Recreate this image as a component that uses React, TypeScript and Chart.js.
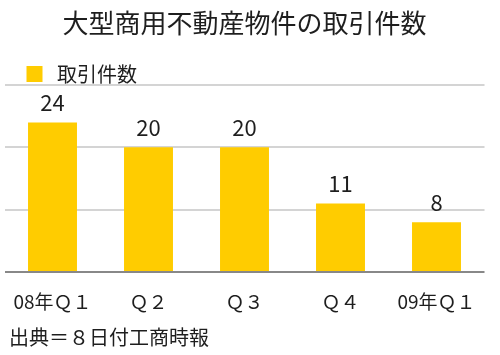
import React, { useEffect, useRef } from "react";
import { Chart, registerables } from "chart.js";

Chart.register(...registerables);

const TITLE = "大型商用不動産物件の取引件数";
const SERIES_LABEL = "取引件数";
const SOURCE = "出典＝８日付工商時報";
const categories = ["08年Ｑ１", "Ｑ２", "Ｑ３", "Ｑ４", "09年Ｑ１"];
const dealCounts = [24, 20, 20, 11, 8];
const yMin = 0;
const yMax = 30;
const yStep = 10;

const FONT = '"Noto Sans CJK JP", "Noto Sans", sans-serif';
const BAR_COLOR = "#ffcc00";
const TEXT_COLOR = "#1e1e1e";

export default function App() {
  const ref = useRef<HTMLCanvasElement>(null);

  useEffect(() => {
    if (!ref.current) return;

    const valueLabels = {
      id: "valueLabels",
      afterDatasetsDraw(chart: any) {
        const ctx = chart.ctx;
        const meta = chart.getDatasetMeta(0);
        ctx.save();
        ctx.font = `22px ${FONT}`;
        ctx.fillStyle = TEXT_COLOR;
        ctx.textAlign = "center";
        ctx.textBaseline = "alphabetic";
        meta.data.forEach((bar: any, i: number) => {
          ctx.fillText(String(dealCounts[i]), bar.x, bar.y - 11);
        });
        ctx.restore();
      },
    };

    const shiftBoxes = {
      id: "shiftBoxes",
      afterLayout(chart: any) {
        if (chart.legend) {
          chart.legend.left += 21;
          chart.legend.right += 21;
          chart.legend.top += 9;
          chart.legend.bottom += 9;
        }
        chart.boxes.forEach((b: any) => {
          if (b.options && b.options.text === SOURCE) {
            b.left += 4.5;
            b.right += 4.5;
          }
        });
      },
    };

    const chart = new Chart(ref.current, {
      type: "bar",
      data: {
        labels: categories,
        datasets: [
          {
            label: SERIES_LABEL,
            data: dealCounts,
            backgroundColor: BAR_COLOR,
            borderWidth: 0,
            categoryPercentage: 1,
            barPercentage: 0.51,
          },
        ],
      },
      options: {
        responsive: false,
        animation: false,
        devicePixelRatio: 1,
        layout: { padding: { left: 4.5, right: 15.5, top: 0, bottom: 0 } },
        plugins: {
          title: {
            display: true,
            text: TITLE,
            color: TEXT_COLOR,
            font: { family: FONT, size: 26, weight: "normal" },
            padding: { top: 8, bottom: 14.8 },
          },
          legend: {
            display: true,
            align: "start",
            labels: {
              boxWidth: 16,
              boxHeight: 16,
              padding: 1,
              color: TEXT_COLOR,
              font: { family: FONT, size: 20 },
              generateLabels: (c: any) =>
                Chart.defaults.plugins.legend.labels
                  .generateLabels(c)
                  .map((l: any) => ({ ...l, text: " " + l.text, lineWidth: 0 })),
            },
          },
          subtitle: {
            display: true,
            position: "bottom",
            align: "start",
            text: SOURCE,
            color: TEXT_COLOR,
            font: { family: FONT, size: 20, weight: "normal" },
            padding: { top: 12, bottom: 6 },
          },
          tooltip: { enabled: false },
        },
        scales: {
          x: {
            grid: { display: false, drawTicks: false },
            border: { display: false },
            ticks: {
              color: TEXT_COLOR,
              font: { family: FONT, size: 19 },
              padding: 18,
              maxRotation: 0,
              autoSkip: false,
            },
            afterFit: (scale: any) => {
              scale.height = 41;
              scale.paddingLeft = 0;
              scale.paddingRight = 0;
            },
          },
          y: {
            min: yMin,
            max: yMax,
            ticks: { display: false, stepSize: yStep },
            border: { display: false },
            grid: {
              drawTicks: false,
              lineWidth: 2,
              color: (ctx: any) => (ctx.tick && ctx.tick.value === 0 ? "#888888" : "#d4d4d4"),
            },
          },
        },
      },
      plugins: [valueLabels, shiftBoxes],
    } as any);

    return () => chart.destroy();
  }, []);

  return (
    <div style={{ position: "fixed", left: 0, top: 0, width: 500, height: 355, background: "#fff" }}>
      <canvas ref={ref} width={500} height={355} style={{ display: "block", width: 500, height: 355 }} />
    </div>
  );
}
